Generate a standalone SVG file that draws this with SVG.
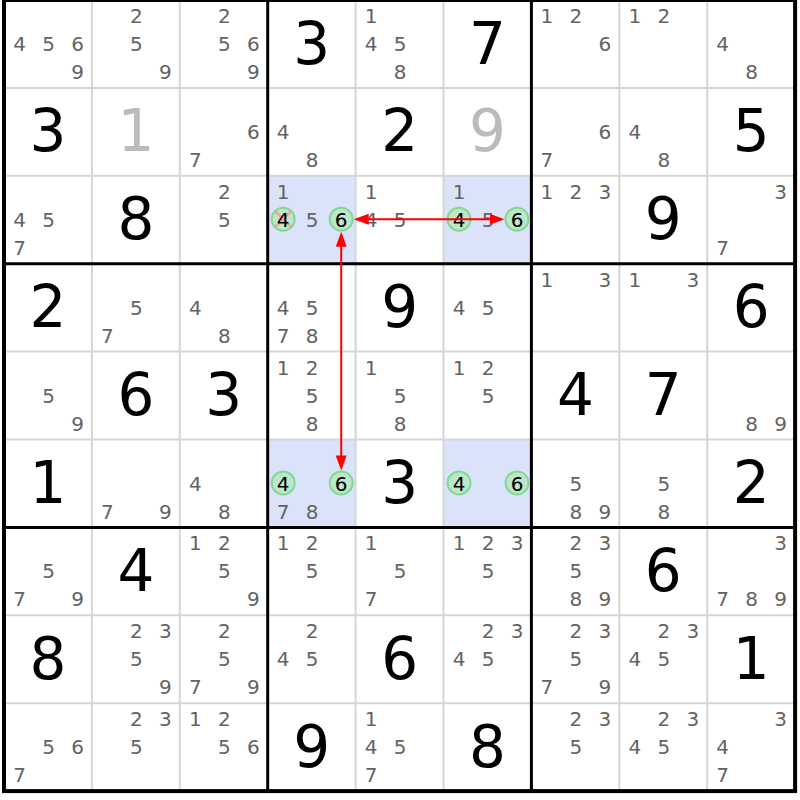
<svg xmlns="http://www.w3.org/2000/svg" width="800" height="800" viewBox="0 0 800 800">
<style>
text{font-family:"DejaVu Sans",Verdana,sans-serif;text-anchor:middle}
.c{font-size:20px;fill:#636363}
.cc{font-size:20px;fill:#000}
.g{font-size:58px;fill:#000}
.gl{font-size:58px;fill:#bbbbbb}
.hl{fill:#dbe3fb}
.ring{fill:#bde6cc;stroke:#80da90;stroke-width:2}
.x{stroke:#f2a0a0;stroke-width:2.5}
.thin{stroke:#d6d6d6;stroke-width:2}
.thick{stroke:#000;stroke-width:3}
.arrow{stroke:#ff0000;stroke-width:2;fill:none;marker-start:url(#ah);marker-end:url(#ah)}
</style>
<defs>
<marker id="ah" markerUnits="userSpaceOnUse" markerWidth="16" markerHeight="12" refX="12" refY="5.5" orient="auto-start-reverse"><path d="M0,0 L15,5.5 L0,11 z" fill="#ff0000"/></marker>
</defs>
<rect width="800" height="800" fill="#fff"/>
<g id="cells">
<g id="r0c0"><text class="c" x="19.5" y="51">4</text><text class="c" x="48.5" y="51">5</text><text class="c" x="77.5" y="51">6</text><text class="c" x="77.5" y="79">9</text></g>
<g id="r0c1"><text class="c" x="136.4" y="23">2</text><text class="c" x="136.4" y="51">5</text><text class="c" x="165.4" y="79">9</text></g>
<g id="r0c2"><text class="c" x="224.3" y="23">2</text><text class="c" x="224.3" y="51">5</text><text class="c" x="253.3" y="51">6</text><text class="c" x="253.3" y="79">9</text></g>
<g id="r0c3"><text class="g" x="311.7" y="63.5">3</text></g>
<g id="r0c4"><text class="c" x="371.1" y="23">1</text><text class="c" x="371.1" y="51">4</text><text class="c" x="400.1" y="51">5</text><text class="c" x="400.1" y="79">8</text></g>
<g id="r0c5"><text class="g" x="487.5" y="63.5">7</text></g>
<g id="r0c6"><text class="c" x="546.9" y="23">1</text><text class="c" x="575.9" y="23">2</text><text class="c" x="604.9" y="51">6</text></g>
<g id="r0c7"><text class="c" x="634.8" y="23">1</text><text class="c" x="663.8" y="23">2</text></g>
<g id="r0c8"><text class="c" x="722.7" y="51">4</text><text class="c" x="751.7" y="79">8</text></g>

<g id="r1c0"><text class="g" x="48" y="151.4">3</text></g>
<g id="r1c1"><text class="gl" x="135.9" y="151.4">1</text></g>
<g id="r1c2"><text class="c" x="253.3" y="138.9">6</text><text class="c" x="195.3" y="166.9">7</text></g>
<g id="r1c3"><text class="c" x="283.2" y="138.9">4</text><text class="c" x="312.2" y="166.9">8</text></g>
<g id="r1c4"><text class="g" x="399.6" y="151.4">2</text></g>
<g id="r1c5"><text class="gl" x="487.5" y="151.4">9</text></g>
<g id="r1c6"><text class="c" x="604.9" y="138.9">6</text><text class="c" x="546.9" y="166.9">7</text></g>
<g id="r1c7"><text class="c" x="634.8" y="138.9">4</text><text class="c" x="663.8" y="166.9">8</text></g>
<g id="r1c8"><text class="g" x="751.2" y="151.4">5</text></g>

<g id="r2c0"><text class="c" x="19.5" y="226.8">4</text><text class="c" x="48.5" y="226.8">5</text><text class="c" x="19.5" y="254.8">7</text></g>
<g id="r2c1"><text class="g" x="135.9" y="239.3">8</text></g>
<g id="r2c2"><text class="c" x="224.3" y="198.8">2</text><text class="c" x="224.3" y="226.8">5</text></g>
<g id="r2c3"><rect class="hl" x="267.7" y="175.8" width="87.9" height="87.9"/><circle class="ring" cx="283.2" cy="219.2" r="11.5"/><line class="x" x1="275.2" y1="211.2" x2="291.2" y2="227.2"/><line class="x" x1="275.2" y1="227.2" x2="291.2" y2="211.2"/><circle class="ring" cx="341.2" cy="219.2" r="11.5"/><text class="c" x="283.2" y="198.8">1</text><text class="cc" x="283.2" y="226.8">4</text><text class="c" x="312.2" y="226.8">5</text><text class="cc" x="341.2" y="226.8">6</text></g>
<g id="r2c4"><text class="c" x="371.1" y="198.8">1</text><text class="c" x="371.1" y="226.8">4</text><text class="c" x="400.1" y="226.8">5</text></g>
<g id="r2c5"><rect class="hl" x="443.5" y="175.8" width="87.9" height="87.9"/><circle class="ring" cx="459" cy="219.2" r="11.5"/><circle class="ring" cx="517" cy="219.2" r="11.5"/><text class="c" x="459" y="198.8">1</text><text class="cc" x="459" y="226.8">4</text><text class="c" x="488" y="226.8">5</text><text class="cc" x="517" y="226.8">6</text></g>
<g id="r2c6"><text class="c" x="546.9" y="198.8">1</text><text class="c" x="575.9" y="198.8">2</text><text class="c" x="604.9" y="198.8">3</text></g>
<g id="r2c7"><text class="g" x="663.3" y="239.3">9</text></g>
<g id="r2c8"><text class="c" x="780.7" y="198.8">3</text><text class="c" x="722.7" y="254.8">7</text></g>

<g id="r3c0"><text class="g" x="48" y="327.2">2</text></g>
<g id="r3c1"><text class="c" x="136.4" y="314.7">5</text><text class="c" x="107.4" y="342.7">7</text></g>
<g id="r3c2"><text class="c" x="195.3" y="314.7">4</text><text class="c" x="224.3" y="342.7">8</text></g>
<g id="r3c3"><text class="c" x="283.2" y="314.7">4</text><text class="c" x="312.2" y="314.7">5</text><text class="c" x="283.2" y="342.7">7</text><text class="c" x="312.2" y="342.7">8</text></g>
<g id="r3c4"><text class="g" x="399.6" y="327.2">9</text></g>
<g id="r3c5"><text class="c" x="459" y="314.7">4</text><text class="c" x="488" y="314.7">5</text></g>
<g id="r3c6"><text class="c" x="546.9" y="286.7">1</text><text class="c" x="604.9" y="286.7">3</text></g>
<g id="r3c7"><text class="c" x="634.8" y="286.7">1</text><text class="c" x="692.8" y="286.7">3</text></g>
<g id="r3c8"><text class="g" x="751.2" y="327.2">6</text></g>

<g id="r4c0"><text class="c" x="48.5" y="402.6">5</text><text class="c" x="77.5" y="430.6">9</text></g>
<g id="r4c1"><text class="g" x="135.9" y="415.1">6</text></g>
<g id="r4c2"><text class="g" x="223.8" y="415.1">3</text></g>
<g id="r4c3"><text class="c" x="283.2" y="374.6">1</text><text class="c" x="312.2" y="374.6">2</text><text class="c" x="312.2" y="402.6">5</text><text class="c" x="312.2" y="430.6">8</text></g>
<g id="r4c4"><text class="c" x="371.1" y="374.6">1</text><text class="c" x="400.1" y="402.6">5</text><text class="c" x="400.1" y="430.6">8</text></g>
<g id="r4c5"><text class="c" x="459" y="374.6">1</text><text class="c" x="488" y="374.6">2</text><text class="c" x="488" y="402.6">5</text></g>
<g id="r4c6"><text class="g" x="575.4" y="415.1">4</text></g>
<g id="r4c7"><text class="g" x="663.3" y="415.1">7</text></g>
<g id="r4c8"><text class="c" x="751.7" y="430.6">8</text><text class="c" x="780.7" y="430.6">9</text></g>

<g id="r5c0"><text class="g" x="48" y="503">1</text></g>
<g id="r5c1"><text class="c" x="107.4" y="518.5">7</text><text class="c" x="165.4" y="518.5">9</text></g>
<g id="r5c2"><text class="c" x="195.3" y="490.5">4</text><text class="c" x="224.3" y="518.5">8</text></g>
<g id="r5c3"><rect class="hl" x="267.7" y="439.5" width="87.9" height="87.9"/><circle class="ring" cx="283.2" cy="482.9" r="11.5"/><circle class="ring" cx="341.2" cy="482.9" r="11.5"/><text class="cc" x="283.2" y="490.5">4</text><text class="cc" x="341.2" y="490.5">6</text><text class="c" x="283.2" y="518.5">7</text><text class="c" x="312.2" y="518.5">8</text></g>
<g id="r5c4"><text class="g" x="399.6" y="503">3</text></g>
<g id="r5c5"><rect class="hl" x="443.5" y="439.5" width="87.9" height="87.9"/><circle class="ring" cx="459" cy="482.9" r="11.5"/><circle class="ring" cx="517" cy="482.9" r="11.5"/><text class="cc" x="459" y="490.5">4</text><text class="cc" x="517" y="490.5">6</text></g>
<g id="r5c6"><text class="c" x="575.9" y="490.5">5</text><text class="c" x="575.9" y="518.5">8</text><text class="c" x="604.9" y="518.5">9</text></g>
<g id="r5c7"><text class="c" x="663.8" y="490.5">5</text><text class="c" x="663.8" y="518.5">8</text></g>
<g id="r5c8"><text class="g" x="751.2" y="503">2</text></g>

<g id="r6c0"><text class="c" x="48.5" y="578.4">5</text><text class="c" x="19.5" y="606.4">7</text><text class="c" x="77.5" y="606.4">9</text></g>
<g id="r6c1"><text class="g" x="135.9" y="590.9">4</text></g>
<g id="r6c2"><text class="c" x="195.3" y="550.4">1</text><text class="c" x="224.3" y="550.4">2</text><text class="c" x="224.3" y="578.4">5</text><text class="c" x="253.3" y="606.4">9</text></g>
<g id="r6c3"><text class="c" x="283.2" y="550.4">1</text><text class="c" x="312.2" y="550.4">2</text><text class="c" x="312.2" y="578.4">5</text></g>
<g id="r6c4"><text class="c" x="371.1" y="550.4">1</text><text class="c" x="400.1" y="578.4">5</text><text class="c" x="371.1" y="606.4">7</text></g>
<g id="r6c5"><text class="c" x="459" y="550.4">1</text><text class="c" x="488" y="550.4">2</text><text class="c" x="517" y="550.4">3</text><text class="c" x="488" y="578.4">5</text></g>
<g id="r6c6"><text class="c" x="575.9" y="550.4">2</text><text class="c" x="604.9" y="550.4">3</text><text class="c" x="575.9" y="578.4">5</text><text class="c" x="575.9" y="606.4">8</text><text class="c" x="604.9" y="606.4">9</text></g>
<g id="r6c7"><text class="g" x="663.3" y="590.9">6</text></g>
<g id="r6c8"><text class="c" x="780.7" y="550.4">3</text><text class="c" x="722.7" y="606.4">7</text><text class="c" x="751.7" y="606.4">8</text><text class="c" x="780.7" y="606.4">9</text></g>

<g id="r7c0"><text class="g" x="48" y="678.8">8</text></g>
<g id="r7c1"><text class="c" x="136.4" y="638.3">2</text><text class="c" x="165.4" y="638.3">3</text><text class="c" x="136.4" y="666.3">5</text><text class="c" x="165.4" y="694.3">9</text></g>
<g id="r7c2"><text class="c" x="224.3" y="638.3">2</text><text class="c" x="224.3" y="666.3">5</text><text class="c" x="195.3" y="694.3">7</text><text class="c" x="253.3" y="694.3">9</text></g>
<g id="r7c3"><text class="c" x="312.2" y="638.3">2</text><text class="c" x="283.2" y="666.3">4</text><text class="c" x="312.2" y="666.3">5</text></g>
<g id="r7c4"><text class="g" x="399.6" y="678.8">6</text></g>
<g id="r7c5"><text class="c" x="488" y="638.3">2</text><text class="c" x="517" y="638.3">3</text><text class="c" x="459" y="666.3">4</text><text class="c" x="488" y="666.3">5</text></g>
<g id="r7c6"><text class="c" x="575.9" y="638.3">2</text><text class="c" x="604.9" y="638.3">3</text><text class="c" x="575.9" y="666.3">5</text><text class="c" x="546.9" y="694.3">7</text><text class="c" x="604.9" y="694.3">9</text></g>
<g id="r7c7"><text class="c" x="663.8" y="638.3">2</text><text class="c" x="692.8" y="638.3">3</text><text class="c" x="634.8" y="666.3">4</text><text class="c" x="663.8" y="666.3">5</text></g>
<g id="r7c8"><text class="g" x="751.2" y="678.8">1</text></g>

<g id="r8c0"><text class="c" x="48.5" y="754.2">5</text><text class="c" x="77.5" y="754.2">6</text><text class="c" x="19.5" y="782.2">7</text></g>
<g id="r8c1"><text class="c" x="136.4" y="726.2">2</text><text class="c" x="165.4" y="726.2">3</text><text class="c" x="136.4" y="754.2">5</text></g>
<g id="r8c2"><text class="c" x="195.3" y="726.2">1</text><text class="c" x="224.3" y="726.2">2</text><text class="c" x="224.3" y="754.2">5</text><text class="c" x="253.3" y="754.2">6</text></g>
<g id="r8c3"><text class="g" x="311.7" y="766.7">9</text></g>
<g id="r8c4"><text class="c" x="371.1" y="726.2">1</text><text class="c" x="371.1" y="754.2">4</text><text class="c" x="400.1" y="754.2">5</text><text class="c" x="371.1" y="782.2">7</text></g>
<g id="r8c5"><text class="g" x="487.5" y="766.7">8</text></g>
<g id="r8c6"><text class="c" x="575.9" y="726.2">2</text><text class="c" x="604.9" y="726.2">3</text><text class="c" x="575.9" y="754.2">5</text></g>
<g id="r8c7"><text class="c" x="663.8" y="726.2">2</text><text class="c" x="692.8" y="726.2">3</text><text class="c" x="634.8" y="754.2">4</text><text class="c" x="663.8" y="754.2">5</text></g>
<g id="r8c8"><text class="c" x="780.7" y="726.2">3</text><text class="c" x="722.7" y="754.2">4</text><text class="c" x="722.7" y="782.2">7</text></g>
</g>
<g id="grid">
<path class="thin" d="M91.9,0V791.1M179.8,0V791.1M355.6,0V791.1M443.5,0V791.1M619.3,0V791.1M707.2,0V791.1M4,87.9H795.1M4,175.8H795.1M4,351.6H795.1M4,439.5H795.1M4,615.3H795.1M4,703.2H795.1"/>
<path class="thick" d="M267.7,0V791.1M531.4,0V791.1M4,263.7H795.1M4,527.4H795.1"/>
<rect x="4" y="0" width="791.1" height="791.1" fill="none" stroke="#000" stroke-width="4"/>
</g>
<g id="connectors">
<line class="arrow" x1="356.7" y1="219.2" x2="501.5" y2="219.2"/>
<line class="arrow" x1="341.2" y1="234.7" x2="341.2" y2="467.4"/>
</g>
</svg>
